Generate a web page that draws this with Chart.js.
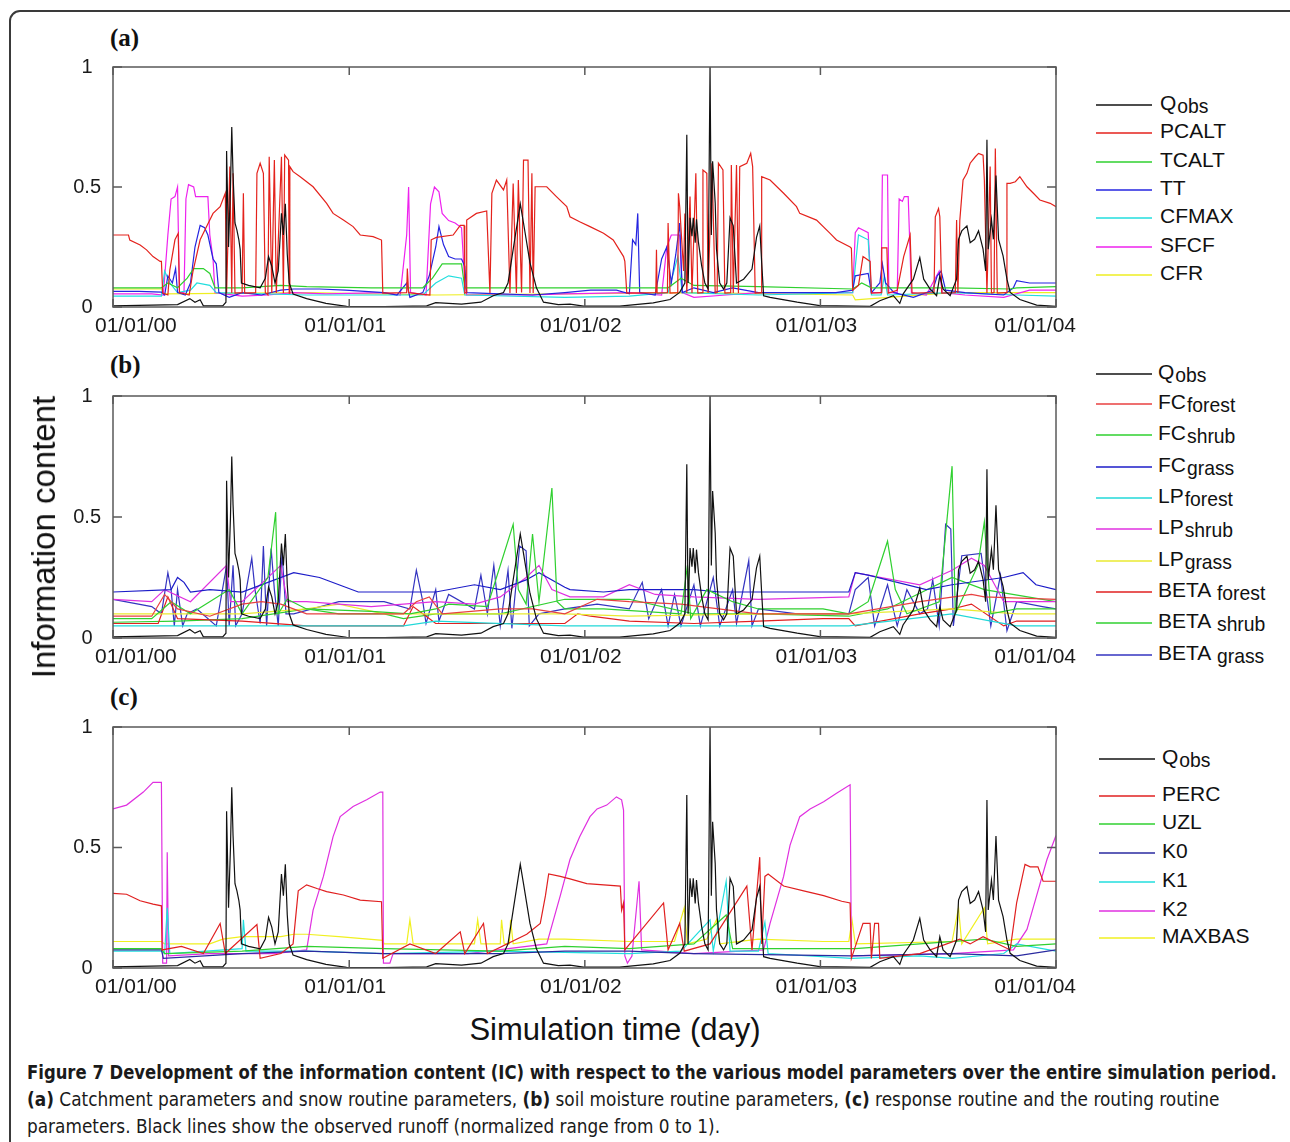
<!DOCTYPE html>
<html>
<head>
<meta charset="utf-8">
<script src="https://cdn.jsdelivr.net/npm/chart.js@4.4.0/dist/chart.umd.min.js"></script>
<style>
  html, body { margin: 0; padding: 0; background: #fff; }
  body { width: 1290px; height: 1142px; position: relative; overflow: hidden; font-family: Arial, "Liberation Sans", sans-serif; color: #111; }
  .frame { position: absolute; left: 9px; top: 10px; width: 1330px; height: 1200px; border: 2px solid #3a3a3a; border-radius: 11px; box-sizing: border-box; }
  canvas { position: absolute; left: 0; }
  .panel { position: absolute; left: 110px; font-family: "Liberation Serif", "Times New Roman", serif; font-weight: bold; font-size: 25px; line-height: 25px; }
  .ytitle { position: absolute; left: 44px; top: 537px; font-size: 33px; white-space: nowrap; transform: translate(-50%, -50%) rotate(-90deg); }
  .xtitle { position: absolute; left: 615px; top: 1030px; font-size: 31px; white-space: nowrap; transform: translate(-50%, -50%); }
  .leg-line { position: absolute; height: 0; border-top: 2px solid #000; opacity: 0.75; }
  .leg-text { position: absolute; font-size: 21px; line-height: 22px; white-space: nowrap; transform: translateY(-50%); }
  .leg-text .sub { font-size: 0.92em; position: relative; top: 3px; margin-left: 1px; }
  .cap { position: absolute; left: 27px; font-family: "Liberation Sans Narrow", "DejaVu Sans Condensed", Arial, sans-serif; font-size: 20px; line-height: 22px; white-space: nowrap; transform-origin: 0 50%; color: #1a1a1a; }
</style>
</head>
<body>
<div class="frame"></div>
<div class="panel" style="top:25px">(a)</div>
<div class="panel" style="top:352px">(b)</div>
<div class="panel" style="top:684px">(c)</div>
<canvas id="chartA" width="1080" height="300" style="top:50px"></canvas>
<canvas id="chartB" width="1080" height="301" style="top:380px"></canvas>
<canvas id="chartC" width="1080" height="301" style="top:710px"></canvas>
<div class="ytitle">Information content</div>
<div class="xtitle">Simulation time (day)</div>
<div id="legends"></div>
<div class="cap" data-w="1250" style="top:1061px"><b>Figure 7 Development of the information content (IC) with respect to the various model parameters over the entire simulation period.</b></div>
<div class="cap" data-w="1192" style="top:1088px"><b>(a)</b> Catchment parameters and snow routine parameters, <b>(b)</b> soil moisture routine parameters, <b>(c)</b> response routine and the routing routine</div>
<div class="cap" data-w="693" style="top:1115px">parameters. Black lines show the observed runoff (normalized range from 0 to 1).</div>
<script>
// x axis is days since 01/01/00
const xTicks = [0, 366, 731, 1096, 1461];
const xLabels = ['01/01/00', '01/01/01', '01/01/02', '01/01/03', '01/01/04'];
const yTicks = [0, 0.5, 1];

// observed runoff, same in all panels
const qobs = [[0,0.005],[60,0.008],[100,0.01],[119,0.035],[127,0.02],[135,0.03],[140,0.005],[170,0.005],[175,0.02],[176,0.65],[179,0.25],[182,0.5],[184,0.75],[186,0.55],[189,0.35],[192,0.32],[195,0.28],[197,0.24],[199,0.1],[210,0.09],[228,0.08],[236,0.12],[241,0.21],[246,0.17],[251,0.1],[256,0.15],[261,0.39],[264,0.3],[267,0.43],[270,0.22],[273,0.1],[279,0.054],[300,0.035],[330,0.015],[362,0.003],[420,0.002],[486,0.005],[500,0.018],[540,0.012],[570,0.02],[589,0.047],[605,0.06],[612,0.1],[620,0.24],[631,0.43],[636,0.35],[646,0.185],[656,0.08],[667,0.02],[690,0.01],[708,0.012],[729,0.004],[785,0.004],[837,0.017],[863,0.031],[878,0.061],[886,0.1],[889,0.718],[891,0.1],[894,0.372],[897,0.295],[899,0.372],[902,0.268],[904,0.365],[907,0.27],[912,0.172],[917,0.1],[922,0.075],[925,1.0],[927,0.3],[929,0.607],[933,0.434],[935,0.241],[940,0.1],[946,0.075],[951,0.1],[956,0.372],[961,0.338],[963,0.241],[966,0.1],[977,0.116],[990,0.158],[997,0.29],[1002,0.338],[1005,0.185],[1008,0.047],[1018,0.04],[1060,0.02],[1095,0.006],[1173,0.003],[1188,0.026],[1209,0.047],[1219,0.015],[1224,0.054],[1240,0.116],[1250,0.206],[1256,0.116],[1266,0.075],[1276,0.047],[1281,0.13],[1286,0.075],[1297,0.047],[1307,0.116],[1310,0.282],[1315,0.317],[1323,0.338],[1328,0.268],[1335,0.282],[1341,0.317],[1348,0.241],[1352,0.15],[1354,0.697],[1356,0.241],[1361,0.365],[1364,0.282],[1368,0.548],[1372,0.282],[1379,0.213],[1385,0.116],[1390,0.061],[1405,0.031],[1431,0.008],[1461,0.003]];

// (a) catchment + snow routine
const pcalt = [[0,0.30],[24,0.30],[26,0.279],[42,0.258],[52,0.238],[62,0.21],[73,0.19],[75,0.19],[77,0.058],[85,0.05],[88,0.154],[96,0.28],[101,0.307],[103,0.06],[118,0.05],[124,0.15],[135,0.28],[145,0.335],[155,0.39],[166,0.418],[174,0.474],[176,0.058],[181,0.585],[184,0.058],[186,0.557],[189,0.058],[200,0.06],[202,0.474],[204,0.058],[221,0.06],[223,0.557],[228,0.599],[233,0.557],[236,0.06],[240,0.05],[242,0.626],[246,0.058],[250,0.612],[253,0.058],[261,0.626],[264,0.058],[266,0.633],[272,0.612],[273,0.058],[274,0.585],[279,0.564],[290,0.543],[310,0.501],[331,0.432],[341,0.39],[357,0.362],[372,0.335],[383,0.30],[403,0.293],[416,0.279],[418,0.058],[455,0.06],[456,0.16],[458,0.06],[491,0.05],[493,0.28],[501,0.29],[527,0.3],[538,0.34],[544,0.34],[545,0.058],[547,0.06],[548,0.362],[563,0.39],[579,0.4],[584,0.058],[587,0.474],[594,0.529],[605,0.488],[610,0.529],[615,0.058],[620,0.515],[625,0.058],[628,0.529],[633,0.06],[636,0.612],[643,0.612],[646,0.058],[649,0.557],[651,0.058],[654,0.501],[672,0.501],[687,0.46],[703,0.418],[708,0.376],[723,0.355],[739,0.335],[760,0.307],[775,0.279],[791,0.21],[793,0.19],[796,0.058],[841,0.06],[842,0.238],[843,0.058],[859,0.06],[860,0.35],[863,0.058],[875,0.06],[876,0.474],[878,0.418],[884,0.15],[886,0.39],[889,0.058],[894,0.46],[897,0.058],[903,0.557],[906,0.058],[913,0.06],[914,0.571],[920,0.557],[922,0.058],[928,0.599],[933,0.058],[936,0.06],[938,0.599],[945,0.571],[948,0.058],[957,0.06],[958,0.592],[961,0.058],[966,0.592],[969,0.058],[971,0.585],[982,0.599],[988,0.64],[991,0.585],[995,0.058],[1004,0.06],[1005,0.543],[1018,0.529],[1039,0.474],[1059,0.418],[1064,0.39],[1090,0.362],[1111,0.307],[1121,0.279],[1142,0.25],[1144,0.245],[1146,0.07],[1155,0.09],[1162,0.21],[1173,0.19],[1175,0.058],[1190,0.06],[1191,0.246],[1199,0.246],[1201,0.058],[1215,0.07],[1225,0.21],[1235,0.3],[1238,0.058],[1272,0.06],[1274,0.376],[1279,0.41],[1281,0.376],[1284,0.058],[1305,0.06],[1307,0.362],[1309,0.058],[1312,0.362],[1317,0.529],[1323,0.557],[1328,0.599],[1336,0.626],[1341,0.64],[1348,0.633],[1350,0.529],[1354,0.058],[1359,0.585],[1361,0.058],[1365,0.06],[1367,0.66],[1370,0.058],[1384,0.06],[1385,0.515],[1390,0.515],[1398,0.522],[1405,0.543],[1416,0.501],[1426,0.474],[1436,0.446],[1452,0.432],[1461,0.418]];
const tcalt = [[0,0.08],[75,0.08],[85,0.1],[100,0.08],[115,0.12],[125,0.16],[140,0.16],[150,0.14],[158,0.08],[200,0.08],[260,0.09],[300,0.085],[400,0.08],[480,0.08],[495,0.12],[510,0.18],[540,0.18],[545,0.08],[600,0.08],[700,0.08],[800,0.08],[860,0.08],[880,0.12],[900,0.09],[1000,0.085],[1146,0.075],[1160,0.1],[1175,0.08],[1300,0.08],[1390,0.075],[1400,0.08],[1461,0.085]];
const tt = [[0,0.065],[40,0.065],[75,0.062],[80,0.05],[85,0.13],[92,0.1],[97,0.16],[100,0.06],[112,0.05],[120,0.1],[127,0.25],[135,0.34],[142,0.33],[147,0.3],[155,0.2],[160,0.18],[164,0.06],[180,0.04],[200,0.06],[230,0.05],[260,0.07],[280,0.075],[320,0.075],[360,0.07],[420,0.06],[440,0.05],[455,0.1],[460,0.04],[480,0.06],[490,0.13],[500,0.25],[505,0.335],[512,0.26],[520,0.21],[530,0.2],[540,0.2],[545,0.17],[548,0.06],[600,0.055],[650,0.05],[700,0.06],[740,0.07],[780,0.07],[800,0.055],[805,0.28],[810,0.26],[813,0.39],[816,0.06],[840,0.05],[850,0.2],[858,0.25],[865,0.1],[872,0.22],[878,0.35],[882,0.06],[900,0.08],[930,0.06],[960,0.08],[1000,0.06],[1060,0.06],[1120,0.06],[1146,0.07],[1150,0.13],[1170,0.14],[1175,0.06],[1188,0.1],[1192,0.18],[1197,0.1],[1210,0.06],[1240,0.04],[1270,0.07],[1277,0.13],[1283,0.15],[1290,0.07],[1320,0.06],[1380,0.05],[1395,0.08],[1400,0.11],[1420,0.1],[1461,0.1]];
const cfmax = [[0,0.045],[75,0.045],[80,0.15],[88,0.1],[100,0.06],[120,0.07],[130,0.1],[150,0.09],[160,0.06],[300,0.05],[400,0.05],[480,0.05],[500,0.1],[520,0.13],[540,0.12],[545,0.05],[700,0.04],[800,0.045],[860,0.06],[875,0.21],[882,0.06],[1000,0.05],[1146,0.06],[1155,0.3],[1170,0.28],[1175,0.05],[1190,0.05],[1195,0.13],[1200,0.05],[1300,0.06],[1400,0.05],[1461,0.045]];
const sfcf = [[0,0.055],[60,0.055],[78,0.05],[85,0.3],[90,0.45],[96,0.46],[100,0.5],[103,0.06],[110,0.06],[113,0.45],[117,0.51],[125,0.5],[128,0.46],[140,0.46],[147,0.46],[150,0.3],[155,0.2],[158,0.06],[200,0.045],[240,0.05],[280,0.06],[330,0.055],[420,0.06],[445,0.05],[455,0.3],[458,0.5],[461,0.06],[485,0.05],[492,0.43],[498,0.5],[505,0.48],[510,0.39],[520,0.36],[530,0.35],[540,0.33],[545,0.1],[548,0.05],[600,0.05],[650,0.05],[700,0.055],[800,0.06],[850,0.05],[858,0.25],[865,0.3],[878,0.3],[882,0.06],[900,0.04],[950,0.05],[1000,0.06],[1100,0.06],[1146,0.06],[1150,0.31],[1155,0.33],[1170,0.31],[1175,0.06],[1190,0.06],[1192,0.55],[1200,0.55],[1202,0.06],[1215,0.06],[1218,0.45],[1223,0.44],[1226,0.46],[1232,0.46],[1237,0.06],[1260,0.05],[1280,0.15],[1285,0.06],[1320,0.05],[1380,0.04],[1420,0.07],[1461,0.07]];
const cfr = [[0,0.075],[75,0.075],[80,0.055],[300,0.06],[500,0.05],[700,0.055],[900,0.06],[1146,0.05],[1150,0.03],[1300,0.06],[1461,0.06]];

// (b) soil moisture routine
const fcForest = [[0,0.09],[60,0.09],[80,0.18],[100,0.12],[150,0.09],[200,0.14],[230,0.15],[260,0.14],[300,0.1],[400,0.1],[450,0.1],[470,0.15],[490,0.17],[510,0.1],[600,0.12],[650,0.12],[700,0.1],[750,0.16],[800,0.15],[880,0.14],[1000,0.1],[1140,0.1],[1250,0.15],[1330,0.18],[1350,0.17],[1461,0.16]];
const fcShrub = [[0,0.08],[60,0.08],[90,0.15],[120,0.1],[180,0.2],[200,0.1],[240,0.25],[252,0.52],[256,0.1],[270,0.16],[300,0.12],[400,0.11],[460,0.1],[500,0.12],[520,0.14],[580,0.13],[620,0.47],[628,0.2],[640,0.14],[650,0.43],[660,0.15],[680,0.62],[688,0.15],[700,0.12],[760,0.12],[880,0.1],[890,0.3],[895,0.08],[920,0.2],[960,0.15],[1000,0.12],[1100,0.12],[1140,0.1],[1170,0.15],[1200,0.4],[1212,0.2],[1230,0.1],[1280,0.15],[1300,0.71],[1305,0.1],[1340,0.3],[1350,0.48],[1360,0.1],[1400,0.12],[1461,0.12]];
const fcGrass = [[0,0.19],[90,0.2],[100,0.25],[110,0.23],[120,0.19],[150,0.2],[200,0.19],[280,0.27],[320,0.25],[350,0.22],[380,0.19],[500,0.19],[560,0.22],[600,0.2],[640,0.24],[660,0.27],[700,0.21],[708,0.2],[760,0.19],[800,0.2],[850,0.2],[900,0.2],[940,0.19],[1000,0.19],[1140,0.19],[1150,0.27],[1170,0.26],[1260,0.2],[1300,0.22],[1380,0.25],[1410,0.27],[1430,0.22],[1461,0.2]];
const lpForest = [[0,0.05],[200,0.05],[300,0.05],[450,0.05],[500,0.07],[700,0.05],[1000,0.05],[1140,0.05],[1300,0.1],[1400,0.05],[1461,0.05]];
const lpShrub = [[0,0.16],[60,0.15],[80,0.2],[120,0.15],[176,0.3],[182,0.15],[200,0.15],[260,0.3],[270,0.15],[300,0.15],[400,0.13],[450,0.14],[500,0.15],[560,0.14],[600,0.17],[640,0.25],[660,0.3],[680,0.2],[708,0.17],[760,0.17],[800,0.22],[840,0.18],[900,0.17],[1000,0.16],[1140,0.17],[1150,0.27],[1250,0.22],[1300,0.28],[1330,0.33],[1350,0.3],[1380,0.15],[1461,0.15]];
const lpGrass = [[0,0.1],[200,0.1],[300,0.12],[350,0.14],[420,0.1],[500,0.1],[600,0.1],[700,0.1],[800,0.09],[1000,0.1],[1140,0.1],[1300,0.12],[1400,0.1],[1461,0.1]];
const betaForest = [[0,0.06],[70,0.06],[85,0.17],[100,0.08],[200,0.07],[300,0.05],[400,0.05],[450,0.05],[465,0.13],[480,0.1],[500,0.06],[600,0.06],[700,0.06],[720,0.1],[740,0.09],[800,0.07],[900,0.06],[1000,0.07],[1100,0.08],[1140,0.08],[1150,0.05],[1250,0.1],[1300,0.12],[1330,0.14],[1380,0.05],[1400,0.07],[1461,0.07]];
const betaShrub = [[0,0.065],[100,0.07],[200,0.08],[300,0.12],[350,0.1],[420,0.1],[450,0.08],[500,0.1],[600,0.1],[700,0.16],[800,0.16],[900,0.1],[1000,0.1],[1140,0.09],[1200,0.12],[1300,0.25],[1350,0.2],[1461,0.15]];
const betaGrass = [[0,0.16],[60,0.13],[75,0.1],[85,0.27],[90,0.2],[95,0.05],[100,0.2],[108,0.05],[115,0.1],[130,0.12],[160,0.05],[176,0.3],[180,0.05],[186,0.3],[190,0.05],[200,0.1],[215,0.33],[220,0.2],[228,0.06],[233,0.38],[238,0.05],[245,0.37],[250,0.2],[256,0.05],[262,0.35],[268,0.1],[280,0.1],[350,0.15],[420,0.15],[460,0.12],[470,0.28],[480,0.15],[485,0.06],[500,0.2],[505,0.07],[520,0.18],[560,0.12],[570,0.26],[580,0.1],[590,0.3],[600,0.05],[612,0.28],[618,0.04],[630,0.38],[640,0.36],[645,0.05],[660,0.1],[700,0.12],[750,0.14],[800,0.12],[820,0.23],[830,0.08],[850,0.2],[860,0.05],[870,0.18],[880,0.05],[900,0.22],[910,0.05],[930,0.25],[940,0.05],[960,0.2],[966,0.06],[985,0.32],[990,0.05],[1000,0.12],[1060,0.1],[1120,0.1],[1140,0.1],[1150,0.2],[1170,0.25],[1180,0.05],[1200,0.22],[1215,0.05],[1230,0.2],[1250,0.1],[1262,0.12],[1270,0.24],[1280,0.05],[1290,0.47],[1298,0.45],[1302,0.05],[1315,0.34],[1345,0.35],[1360,0.05],[1375,0.26],[1385,0.03],[1400,0.15],[1440,0.13],[1461,0.12]];

// (c) response + routing routine
const perc = [[0,0.31],[21,0.306],[42,0.279],[62,0.265],[75,0.258],[76,0.075],[106,0.09],[140,0.06],[166,0.185],[174,0.06],[223,0.18],[228,0.04],[260,0.06],[279,0.1],[287,0.32],[300,0.345],[316,0.33],[331,0.317],[357,0.303],[383,0.282],[416,0.275],[418,0.04],[460,0.1],[500,0.06],[538,0.15],[545,0.06],[574,0.185],[580,0.06],[641,0.14],[662,0.185],[670,0.30],[675,0.39],[693,0.38],[708,0.37],[734,0.35],[786,0.34],[788,0.24],[791,0.27],[793,0.075],[853,0.27],[860,0.075],[878,0.185],[885,0.07],[925,0.1],[982,0.34],[990,0.075],[1002,0.46],[1005,0.1],[1010,0.38],[1015,0.39],[1039,0.34],[1070,0.32],[1101,0.3],[1129,0.277],[1142,0.27],[1144,0.04],[1162,0.185],[1173,0.185],[1175,0.04],[1180,0.185],[1186,0.185],[1188,0.04],[1250,0.06],[1312,0.12],[1328,0.1],[1348,0.13],[1390,0.075],[1400,0.27],[1413,0.43],[1421,0.42],[1433,0.42],[1441,0.36],[1461,0.36]];
const uzl = [[0,0.08],[75,0.08],[80,0.06],[200,0.07],[300,0.09],[420,0.08],[600,0.07],[700,0.09],[800,0.08],[900,0.1],[950,0.22],[960,0.08],[1100,0.08],[1150,0.08],[1250,0.1],[1350,0.12],[1400,0.09],[1461,0.1]];
const k0 = [[0,0.075],[75,0.075],[78,0.04],[200,0.06],[300,0.07],[420,0.06],[600,0.06],[700,0.07],[800,0.07],[900,0.06],[1144,0.05],[1300,0.06],[1400,0.05],[1461,0.075]];
const k1 = [[0,0.07],[75,0.07],[80,0.06],[84,0.25],[88,0.06],[200,0.08],[202,0.2],[206,0.07],[300,0.07],[420,0.06],[600,0.07],[800,0.06],[880,0.07],[925,0.2],[930,0.07],[950,0.36],[956,0.07],[1000,0.07],[1010,0.19],[1015,0.06],[1144,0.04],[1250,0.05],[1300,0.04],[1380,0.06],[1400,0.1],[1461,0.07]];
const k2 = [[0,0.66],[21,0.676],[47,0.73],[62,0.77],[75,0.77],[77,0.02],[83,0.02],[84,0.48],[86,0.05],[150,0.06],[250,0.06],[300,0.075],[310,0.24],[326,0.38],[341,0.545],[352,0.628],[372,0.67],[393,0.698],[414,0.73],[418,0.73],[419,0.02],[429,0.02],[434,0.06],[550,0.06],[672,0.1],[693,0.3],[708,0.45],[723,0.545],[739,0.628],[750,0.66],[765,0.676],[780,0.71],[788,0.698],[791,0.655],[793,0.05],[797,0.02],[804,0.05],[815,0.36],[819,0.075],[900,0.06],[1008,0.075],[1018,0.185],[1039,0.38],[1049,0.51],[1064,0.628],[1080,0.66],[1101,0.69],[1121,0.725],[1142,0.76],[1144,0.05],[1300,0.06],[1395,0.075],[1416,0.16],[1431,0.3],[1447,0.45],[1461,0.55]];
const maxbas = [[0,0.11],[75,0.11],[80,0.1],[150,0.1],[170,0.12],[200,0.13],[260,0.13],[280,0.14],[300,0.14],[350,0.13],[418,0.115],[420,0.1],[455,0.1],[460,0.2],[465,0.1],[560,0.1],[565,0.2],[570,0.1],[600,0.1],[602,0.2],[606,0.1],[614,0.1],[616,0.2],[620,0.1],[660,0.12],[700,0.12],[800,0.11],[870,0.11],[885,0.25],[890,0.1],[920,0.12],[935,0.2],[940,0.1],[1000,0.12],[1100,0.11],[1140,0.11],[1145,0.2],[1150,0.1],[1300,0.11],[1310,0.25],[1315,0.1],[1350,0.25],[1355,0.1],[1400,0.12],[1461,0.12]];

const panelA = [
  { name: ['Q', 'obs'], data: qobs, color: '#111111' },
  { name: ['PCALT'], data: pcalt, color: '#e4221c' },
  { name: ['TCALT'], data: tcalt, color: '#2fd02f' },
  { name: ['TT'], data: tt, color: '#2424e0' },
  { name: ['CFMAX'], data: cfmax, color: '#22dede' },
  { name: ['SFCF'], data: sfcf, color: '#ee22ee' },
  { name: ['CFR'], data: cfr, color: '#eeee22' }
];
const panelB = [
  { name: ['Q', 'obs'], data: qobs, color: '#111111' },
  { name: ['FC', 'forest'], data: fcForest, color: '#e84040' },
  { name: ['FC', 'shrub'], data: fcShrub, color: '#2fd02f' },
  { name: ['FC', 'grass'], data: fcGrass, color: '#1c1cc8' },
  { name: ['LP', 'forest'], data: lpForest, color: '#22d8d8' },
  { name: ['LP', 'shrub'], data: lpShrub, color: '#e030e0' },
  { name: ['LP', 'grass'], data: lpGrass, color: '#eaea30' },
  { name: ['BETA ', 'forest'], data: betaForest, color: '#e02020' },
  { name: ['BETA ', 'shrub'], data: betaShrub, color: '#30d030' },
  { name: ['BETA ', 'grass'], data: betaGrass, color: '#3434c0' }
];
const panelC = [
  { name: ['Q', 'obs'], data: qobs, color: '#111111' },
  { name: ['PERC'], data: perc, color: '#e02020' },
  { name: ['UZL'], data: uzl, color: '#30d030' },
  { name: ['K0'], data: k0, color: '#2a2aa0' },
  { name: ['K1'], data: k1, color: '#22dede' },
  { name: ['K2'], data: k2, color: '#e030e0' },
  { name: ['MAXBAS'], data: maxbas, color: '#f0f020' }
];

const framePlugin = {
  id: 'frame',
  afterDraw(chart) {
    const { ctx, chartArea: a, scales: { x, y } } = chart;
    ctx.save();
    ctx.strokeStyle = '#5a5a5a';
    ctx.lineWidth = 1.5;
    ctx.strokeRect(a.left, a.top, a.right - a.left, a.bottom - a.top);
    ctx.beginPath();
    xTicks.forEach(v => {
      const px = x.getPixelForValue(v);
      ctx.moveTo(px, a.top); ctx.lineTo(px, a.top + 8);
      ctx.moveTo(px, a.bottom); ctx.lineTo(px, a.bottom - 8);
    });
    yTicks.forEach(v => {
      const py = y.getPixelForValue(v);
      ctx.moveTo(a.left, py); ctx.lineTo(a.left + 9, py);
      ctx.moveTo(a.right, py); ctx.lineTo(a.right - 9, py);
    });
    ctx.stroke();
    // date labels, first and last pulled inwards like the original
    ctx.fillStyle = '#1a1a1a';
    ctx.font = '21px Arial';
    ctx.textBaseline = 'middle';
    xLabels.forEach((t, i) => {
      const px = x.getPixelForValue(xTicks[i]);
      if (i === 0) { ctx.textAlign = 'left'; ctx.fillText(t, px - 18, a.bottom + 19); }
      else if (i === xLabels.length - 1) { ctx.textAlign = 'right'; ctx.fillText(t, px + 20, a.bottom + 19); }
      else { ctx.textAlign = 'center'; ctx.fillText(t, px - 4, a.bottom + 19); }
    });
    ctx.restore();
  }
};

function makeChart(id, sets, padTop) {
  return new Chart(document.getElementById(id), {
    type: 'line',
    data: {
      datasets: sets.map(s => ({
        label: s.name.join(''),
        data: s.data.map(p => ({ x: p[0], y: p[1] })),
        borderColor: s.color,
        borderWidth: 1.2,
        pointRadius: 0,
        tension: 0
      }))
    },
    options: {
      responsive: false,
      animation: false,
      events: [],
      layout: { padding: { left: 0, right: 24, top: padTop, bottom: 0 } },
      plugins: { legend: { display: false }, tooltip: { enabled: false } },
      scales: {
        x: {
          type: 'linear', min: 0, max: 1461,
          grid: { display: false }, border: { display: false },
          ticks: { display: false },
          afterBuildTicks: s => { s.ticks = xTicks.map(v => ({ value: v })); },
          afterFit: s => { s.height = 43; }
        },
        y: {
          min: 0, max: 1,
          grid: { display: false, drawTicks: false }, border: { display: false },
          ticks: { crossAlign: 'center', padding: 12, color: '#1a1a1a', font: { family: 'Arial', size: 20 }, callback: v => String(v) },
          afterBuildTicks: s => { s.ticks = yTicks.map(v => ({ value: v })); },
          // drop the room Chart.js keeps for half a label above/below the plot
          afterFit: s => { s.width = 113; s.paddingTop = 0; s.paddingBottom = 0; }
        }
      }
    },
    plugins: [framePlugin]
  });
}

makeChart('chartA', panelA, 17);
makeChart('chartB', panelB, 16);
makeChart('chartC', panelC, 17);

function addLegend(sets, rows, lineX, textX) {
  const box = document.getElementById('legends');
  sets.forEach((s, i) => {
    const line = document.createElement('div');
    line.className = 'leg-line';
    line.style.left = lineX + 'px';
    line.style.width = '56px';
    line.style.top = (rows[i] + 1) + 'px';
    line.style.borderTopColor = s.color;
    box.appendChild(line);
    const txt = document.createElement('div');
    txt.className = 'leg-text';
    txt.style.left = textX + 'px';
    txt.style.top = rows[i] + 'px';
    txt.textContent = s.name[0];
    if (s.name[1]) {
      const sub = document.createElement('span');
      sub.className = 'sub';
      sub.textContent = s.name[1];
      txt.appendChild(sub);
    }
    box.appendChild(txt);
  });
}

addLegend(panelA, [103, 131, 160, 188, 216, 245, 273], 1096, 1160);
addLegend(panelB, [372, 402, 433, 465, 496, 527, 559, 590, 621, 653], 1096, 1158);
addLegend(panelC, [757, 794, 822, 851, 880, 909, 936], 1099, 1162);

document.querySelectorAll('.cap').forEach(el => {
  const w = +el.dataset.w;
  el.style.transform = 'scaleX(' + (w / el.offsetWidth) + ')';
});
</script>
</body>
</html>
